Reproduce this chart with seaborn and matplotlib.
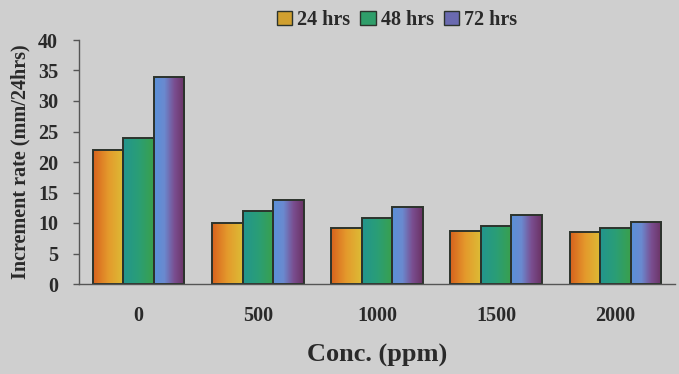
import numpy as np
import pandas as pd
import matplotlib
matplotlib.use("Agg")
import matplotlib.pyplot as plt
import seaborn as sns
from matplotlib.colors import LinearSegmentedColormap
from matplotlib.patches import Patch

concentrations = ["0", "500", "1000", "1500", "2000"]
series_names = ["24 hrs", "48 hrs", "72 hrs"]
vals_24 = [22.0, 10.0, 9.2, 8.7, 8.5]
vals_48 = [24.0, 11.9, 10.8, 9.5, 9.2]
vals_72 = [34.0, 13.8, 12.6, 11.3, 10.1]
y_ticks = [0, 5, 10, 15, 20, 25, 30, 35, 40]

df = pd.DataFrame({
    "conc": concentrations * 3,
    "series": sum([[s] * len(concentrations) for s in series_names], []),
    "value": vals_24 + vals_48 + vals_72,
})

gradients = {
    "24 hrs": ["#d8621e", "#e49a2c", "#dcbc36"],
    "48 hrs": ["#23958e", "#2a9e76", "#3aa04c"],
    "72 hrs": ["#5a90d8", "#6a8ad0", "#7a4e90", "#6a3264"],
}
legend_colors = {"24 hrs": "#d0a030", "48 hrs": "#2f9e6a", "72 hrs": "#6a6ab0"}

bg = "#cfcfcf"
txt = "#2a2a2a"
sns.set_theme(style="white")
plt.rcParams["font.family"] = ["Liberation Serif", "DejaVu Serif"]
plt.rcParams["font.weight"] = "bold"

fig = plt.figure(figsize=(6.79, 3.74), dpi=100, facecolor=bg)
ax = fig.add_axes([79 / 679, 1 - 284 / 374, 596 / 679, 244 / 374])
ax.set_facecolor(bg)

palette = {s: legend_colors[s] for s in series_names}
sns.barplot(data=df, x="conc", y="value", hue="series", order=concentrations,
            hue_order=series_names, palette=palette, width=0.77, gap=0,
            edgecolor="#2c332c", linewidth=1.4, legend=False, ax=ax)

for container, name in zip(ax.containers, series_names):
    cmap = LinearSegmentedColormap.from_list(name, gradients[name])
    grad = np.linspace(0, 1, 64).reshape(1, -1)
    for bar in container:
        x0, y0 = bar.get_x(), bar.get_y()
        w, h = bar.get_width(), bar.get_height()
        im = ax.imshow(grad, cmap=cmap, aspect="auto",
                       extent=[x0, x0 + w, y0, y0 + h], zorder=bar.get_zorder() - 0.1)
        im.set_clip_path(bar)
        bar.set_facecolor("none")

ax.set_xlim(-0.5, 4.5)
ax.set_ylim(0, 40)
ax.set_yticks(y_ticks)
ax.set_xticks(range(len(concentrations)))
ax.set_xticklabels(concentrations)
ax.set_xticks([0.5, 1.5, 2.5, 3.5, 4.5], minor=True)
ax.tick_params(axis="x", which="major", length=0, pad=16, labelsize=14.5, labelcolor=txt)
ax.tick_params(axis="x", which="minor", length=4, width=1, color="#555555", direction="out")
ax.tick_params(axis="y", length=4, width=1, color="#555555", direction="out",
               left=True, labelsize=14.5, labelcolor=txt, pad=11)
for lab in ax.get_xticklabels() + ax.get_yticklabels():
    lab.set_fontweight("bold")

for sp in ["top", "right"]:
    ax.spines[sp].set_visible(False)
for sp in ["left", "bottom"]:
    ax.spines[sp].set_color("#555555")
    ax.spines[sp].set_linewidth(1.0)

ax.set_xlabel("Conc. (ppm)", fontsize=19, fontweight="bold", color=txt, labelpad=13)
ax.set_ylabel("Increment rate (mm/24hrs)", fontsize=14.5, fontweight="bold", color=txt, labelpad=5)

handles = [Patch(facecolor=legend_colors[s], edgecolor="#2c332c", linewidth=1.0, label=s)
           for s in series_names]
fig.legend(handles=handles, loc="center", bbox_to_anchor=(397 / 679, 1 - 20 / 374),
           ncol=3, frameon=False, handlelength=0.75, handleheight=0.75,
           handletextpad=0.25, columnspacing=0.5,
           prop={"family": "Liberation Serif", "weight": "bold", "size": 14.5},
           labelcolor=txt)

fig.savefig("out.png", dpi=100, facecolor=bg)
